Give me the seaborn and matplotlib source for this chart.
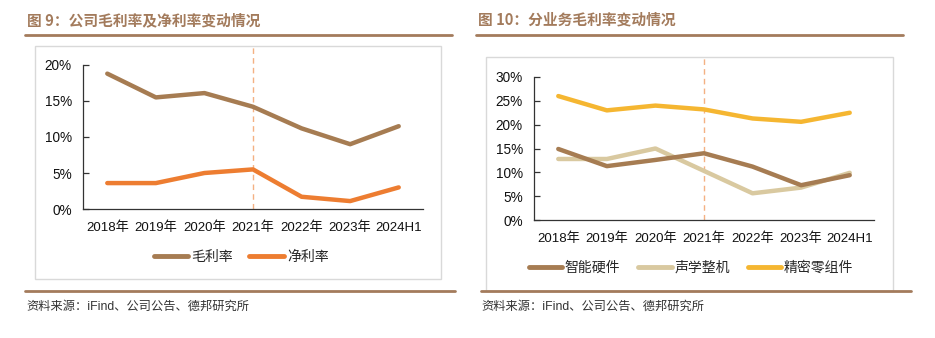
import matplotlib
matplotlib.use("Agg")
import matplotlib.pyplot as plt
import matplotlib.lines as mlines
import seaborn as sns
import pandas as pd
from matplotlib.ticker import FixedLocator, FuncFormatter

sns.set_theme(style="white")
plt.rcParams['font.family'] = ['Liberation Sans', 'Noto Sans CJK SC', 'DejaVu Sans']

years = ["2018年", "2019年", "2020年", "2021年", "2022年", "2023年", "2024H1"]
gross_margin = [18.8, 15.5, 16.1, 14.2, 11.2, 9.0, 11.5]
net_margin = [3.6, 3.6, 5.0, 5.5, 1.7, 1.1, 3.0]
smart_hw = [14.9, 11.3, 12.6, 14.0, 11.2, 7.3, 9.4]
acoustic = [12.8, 12.8, 15.0, 10.3, 5.6, 6.8, 9.9]
precision = [26.0, 23.0, 24.0, 23.2, 21.3, 20.6, 22.5]

title_left = "图 9：公司毛利率及净利率变动情况"
title_right = "图 10：分业务毛利率变动情况"
source = "资料来源：iFind、公司公告、德邦研究所"

C_BROWN = "#A67C52"
C_ORANGE = "#ED7D31"
C_BEIGE = "#D9C9A0"
C_YELLOW = "#F5B631"
RULE = "#A37B5C"
CJK = ['Noto Sans CJK SC', 'DejaVu Sans']

W, H = 935, 338
fig = plt.figure(figsize=(W / 100, H / 100), dpi=100)

def fx(px):
    return px / W

def fy(py):
    return 1 - py / H

def hline(x0, x1, y, color=RULE, lw=2.0):
    fig.add_artist(mlines.Line2D([fx(x0), fx(x1)], [fy(y), fy(y)], color=color, lw=lw,
                                 transform=fig.transFigure))

def box(x0, x1, y0, y1, color="#D9D9D9"):
    fig.add_artist(plt.Rectangle((fx(x0), fy(y1)), fx(x1) - fx(x0), fy(y0) - fy(y1),
                                 fill=False, edgecolor=color, lw=1.0, transform=fig.transFigure))

# frames, rules, titles
box(35, 441, 46, 279)
box(486, 893, 57, 291)
hline(25, 452, 35)
hline(476, 903, 35)
hline(25, 455, 291)
hline(481, 911, 291)
fig.text(fx(27), fy(20), title_left, fontsize=10.6, fontweight="bold", color=RULE,
         family=CJK, va="center", ha="left")
fig.text(fx(478), fy(20), title_right, fontsize=10.6, fontweight="bold", color=RULE,
         family=CJK, va="center", ha="left")
fig.text(fx(26), fy(307), source, fontsize=8.8, color="#333333",
         family=['Liberation Sans', 'Noto Sans CJK SC'], va="center", ha="left")
fig.text(fx(481), fy(307), source, fontsize=8.8, color="#333333",
         family=['Liberation Sans', 'Noto Sans CJK SC'], va="center", ha="left")


def style_axes(ax, ymax, step, dash_top):
    ax.set_xlim(-0.5, len(years) - 0.5)
    ax.set_ylim(0, ymax)
    for s in ["top", "right"]:
        ax.spines[s].set_visible(False)
    for s in ["left", "bottom"]:
        ax.spines[s].set_color("#333333")
        ax.spines[s].set_linewidth(0.9)
    ax.set_xticks(range(len(years)))
    ax.set_xticklabels(years)
    ax.xaxis.set_minor_locator(FixedLocator([i - 0.5 for i in range(len(years) + 1)]))
    ax.tick_params(axis="x", which="major", length=0, pad=9, labelsize=9.5, colors="#111111")
    ax.tick_params(axis="x", which="minor", direction="in", length=4, width=0.9, color="#333333")
    ticks = list(range(0, ymax + 1, step))
    ax.set_yticks(ticks)
    ax.yaxis.set_major_formatter(FuncFormatter(lambda v, p: f"{int(v)}%"))
    ax.tick_params(axis="y", direction="in", length=4, width=0.9, color="#333333",
                   labelsize=9.8, pad=8, colors="#111111", left=True)
    ax.grid(False)
    ax.set_xlabel("")
    ax.set_ylabel("")
    ax.plot([3, 3], [0, dash_top], ls=(0, (4, 3)), color="#F4B183", lw=1.0,
            clip_on=False, zorder=1)


# left chart
axL = fig.add_axes([fx(83), fy(209), fx(423) - fx(83), fy(65) - fy(209)])
dfL = pd.DataFrame({
    "year": years * 2,
    "value": gross_margin + net_margin,
    "series": ["毛利率"] * len(years) + ["净利率"] * len(years),
})
sns.lineplot(data=dfL, x="year", y="value", hue="series", sort=False, ax=axL,
             palette={"毛利率": C_BROWN, "净利率": C_ORANGE}, linewidth=3.2, legend=False,
             zorder=3)
style_axes(axL, 20, 5, 22.6)
handlesL = [mlines.Line2D([], [], color=C_BROWN, lw=3.5, solid_capstyle="round"),
            mlines.Line2D([], [], color=C_ORANGE, lw=3.5, solid_capstyle="round")]
fig.legend(handlesL, ["毛利率", "净利率"], loc="center", bbox_to_anchor=(fx(241), fy(257)),
           ncol=2, frameon=False, prop={"family": CJK, "size": 10}, handlelength=2.5,
           columnspacing=1.2, handletextpad=0.2)

# right chart
axR = fig.add_axes([fx(534), fy(220), fx(874) - fx(534), fy(77) - fy(220)])
dfR = pd.DataFrame({
    "year": years * 3,
    "value": smart_hw + acoustic + precision,
    "series": ["智能硬件"] * len(years) + ["声学整机"] * len(years) + ["精密零组件"] * len(years),
})
sns.lineplot(data=dfR, x="year", y="value", hue="series", sort=False, ax=axR,
             palette={"智能硬件": C_BROWN, "声学整机": C_BEIGE, "精密零组件": C_YELLOW},
             hue_order=["精密零组件", "声学整机", "智能硬件"],
             linewidth=3.2, legend=False, zorder=3)
style_axes(axR, 30, 5, 34.2)
handlesR = [mlines.Line2D([], [], color=C_BROWN, lw=3.5, solid_capstyle="round"),
            mlines.Line2D([], [], color=C_BEIGE, lw=3.5, solid_capstyle="round"),
            mlines.Line2D([], [], color=C_YELLOW, lw=3.5, solid_capstyle="round")]
fig.legend(handlesR, ["智能硬件", "声学整机", "精密零组件"], loc="center",
           bbox_to_anchor=(fx(691), fy(268)), ncol=3, frameon=False,
           prop={"family": CJK, "size": 10}, handlelength=2.4, columnspacing=1.3,
           handletextpad=0.2)

fig.savefig("out.png", dpi=100)
